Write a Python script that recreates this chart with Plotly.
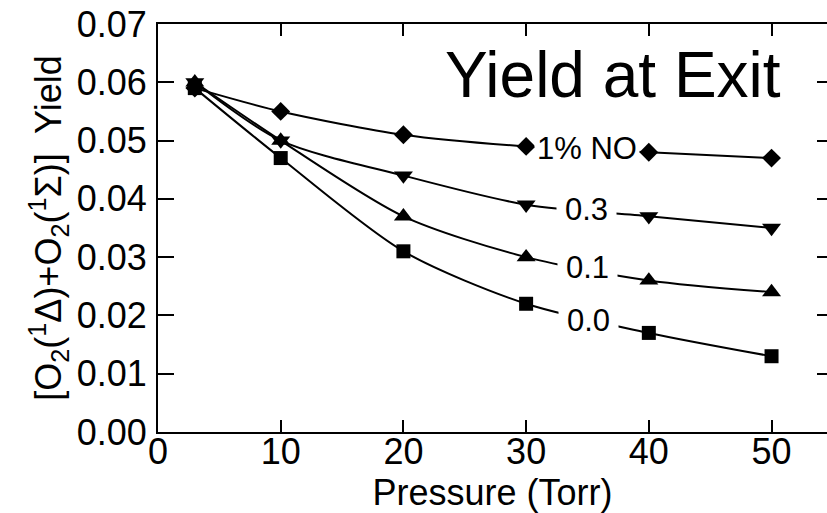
import plotly.graph_objects as go

pressure = [3, 10, 20, 30, 40, 50]
yield_no_1 = [0.059, 0.055, 0.051, 0.049, 0.048, 0.047]
yield_no_03 = [0.060, 0.050, 0.044, 0.039, 0.037, 0.035]
yield_no_01 = [0.060, 0.050, 0.037, 0.030, 0.026, 0.024]
yield_no_00 = [0.059, 0.047, 0.031, 0.022, 0.017, 0.013]

series_names = ["1% NO", "0.3", "0.1", "0.0"]
label_x = [35.0, 34.9, 35.0, 35.1]
label_y = [0.0487, 0.0381, 0.0283, 0.0191]

FONT = "Liberation Sans, Arial, Helvetica, sans-serif"

fig = go.Figure()

specs = [
    (yield_no_1, "diamond", 14.5),
    (yield_no_03, "triangle-down", 16.5),
    (yield_no_01, "triangle-up", 16.5),
    (yield_no_00, "square", 14),
]
for (vals, sym, size), name in zip(specs, series_names):
    fig.add_trace(go.Scatter(
        x=pressure, y=vals, mode="lines+markers", name=name,
        line=dict(color="black", width=2, shape="spline", smoothing=0.8),
        marker=dict(symbol=sym, size=size, color="black"),
        showlegend=False,
    ))

# empty trace to anchor the right-side tick axis
fig.add_trace(go.Scatter(x=[None], y=[None], yaxis="y2", showlegend=False, hoverinfo="skip"))

for name, lx, ly in zip(series_names, label_x, label_y):
    pad = 2 if name == "1% NO" else 8
    fig.add_annotation(x=lx, y=ly, text=name, showarrow=False,
                       font=dict(family=FONT, size=31, color="black"),
                       bgcolor="white", borderpad=pad)

fig.add_annotation(x=37.08, y=0.0612, text="Yield at Exit", showarrow=False,
                   font=dict(family=FONT, size=64, color="black"))

yr = [0, 0.07]
fig.update_layout(
    width=827, height=513,
    margin=dict(l=158, r=0, t=24, b=81, pad=0),
    paper_bgcolor="white", plot_bgcolor="white",
    font=dict(family=FONT, color="black"),
    xaxis=dict(
        range=[0, 54.52], tickvals=[0, 10, 20, 30, 40, 50],
        ticks="inside", ticklen=12, tickwidth=2, tickcolor="black",
        showline=True, linewidth=2, linecolor="black", mirror="ticks",
        showgrid=False, zeroline=False,
        tickfont=dict(family=FONT, size=36), ticklabelstandoff=-13,
        title=dict(text="Pressure (Torr)", font=dict(family=FONT, size=36), standoff=0),
    ),
    yaxis=dict(
        range=yr, tickvals=[0, 0.01, 0.02, 0.03, 0.04, 0.05, 0.06, 0.07],
        tickformat=".2f",
        ticks="inside", ticklen=16, tickwidth=2, tickcolor="black",
        showline=True, linewidth=2, linecolor="black", mirror=False,
        showgrid=False, zeroline=False,
        tickfont=dict(family=FONT, size=36), ticklabelstandoff=2,
        title=dict(text="[O<sub>2</sub>(<sup>1</sup>Δ)+O<sub>2</sub>(<sup>1</sup>Σ)]  Yield",
                   font=dict(family=FONT, size=36), standoff=4),
    ),
    yaxis2=dict(
        range=yr, overlaying="y", side="right", anchor="x",
        tickvals=[0, 0.01, 0.02, 0.03, 0.04, 0.05, 0.06, 0.07],
        ticks="inside", ticklen=10, tickwidth=2, tickcolor="black",
        showticklabels=False, showline=False, showgrid=False, zeroline=False,
    ),
)

fig.write_html("out.html")
